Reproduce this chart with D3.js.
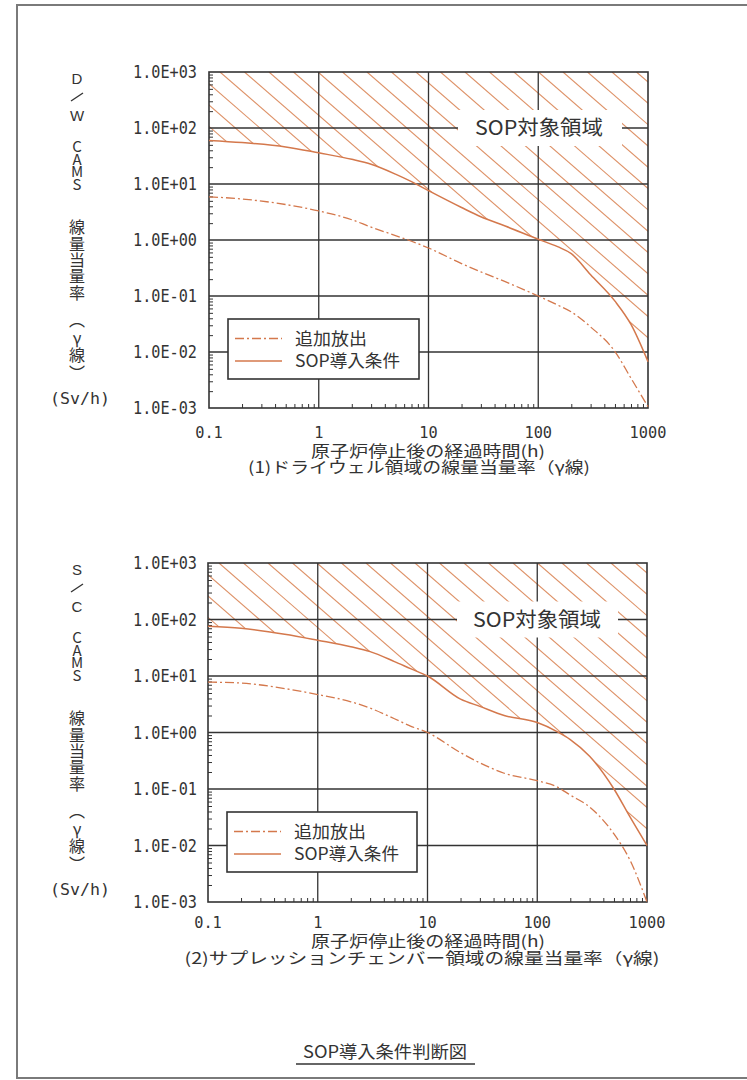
<!DOCTYPE html>
<html><head><meta charset="utf-8">
<script src="https://cdn.jsdelivr.net/npm/d3@7"></script>
<style>
html,body{margin:0;padding:0;background:#fff;}
svg{display:block;}
.vert{writing-mode:vertical-rl;text-orientation:upright;}
</style></head><body>
<svg id="c" width="747" height="1080"></svg>
<script>
// Elapsed time after reactor shutdown (h)
const hours = [0.1, 0.2, 0.5, 1, 2, 3, 5, 7, 10, 20, 30, 50, 100, 150, 200, 300, 500, 700, 1000];

// (1) Drywell CAMS dose rate (Sv/h)
const dwAdditional   = [5.9, 5.4, 4.3, 3.3, 2.3, 1.7, 1.2, 0.95, 0.72, 0.38, 0.27, 0.18, 0.1, 0.069, 0.052, 0.028, 0.0102, 0.0034, 0.00106];
const dwSopCondition = [60, 55, 46, 36, 27.6, 22.5, 15, 11, 7.6, 3.8, 2.6, 1.78, 1.03, 0.76, 0.57, 0.24, 0.081, 0.031, 0.0067];

// (2) Suppression chamber CAMS dose rate (Sv/h)
const scAdditional   = [7.8, 7.5, 6.0, 4.7, 3.5, 2.7, 1.75, 1.3, 1.0, 0.44, 0.29, 0.19, 0.14, 0.11, 0.078, 0.048, 0.016, 0.0055, 0.001];
const scSopCondition = [76, 70, 55, 43, 33, 27, 18, 13.5, 10, 3.9, 2.9, 2.0, 1.5, 1.05, 0.75, 0.38, 0.1, 0.032, 0.01];

const xTickValues = [0.1, 1, 10, 100, 1000];
const xTickLabels = ["0.1", "1", "10", "100", "1000"];
const yTickValues = [1e-3, 1e-2, 1e-1, 1e0, 1e1, 1e2, 1e3];
const yTickLabels = ["1.0E-03", "1.0E-02", "1.0E-01", "1.0E+00", "1.0E+01", "1.0E+02", "1.0E+03"];

const legendLabels = ["追加放出", "SOP導入条件"];
const regionLabel = "SOP対象領域";
const xTitle = "原子炉停止後の経過時間(h)";
const panelTitles = ["(1)ドライウェル領域の線量当量率（γ線)", "(2)サプレッションチェンバー領域の線量当量率（γ線)"];
const yTitleHeads = [["D", "W"], ["S", "C"]];
const yTitleTail = "CAMS";
const yTitleQuantity = "線量当量率";
const yTitleKind = "︵γ線︶";
const yUnit = "(Sv/h)";
const figureCaption = "SOP導入条件判断図";

const ORANGE = "#d4784c";
const HATCH = "#de9268";
const INK = "#333";
const MONO = "'DejaVu Sans Mono', monospace";
const JP = "'Noto Sans CJK JP', 'Noto Sans', sans-serif";
const LATIN = "'Liberation Sans', Arial, sans-serif";

const svg = d3.select("#c");

// page frame
svg.append("rect").attr("x", 17).attr("y", 5).attr("width", 800).attr("height", 1073)
  .attr("fill", "none").attr("stroke", "#7a7a7a").attr("stroke-width", 2);

const panels = [
  { top: 72, bottom: 408, left: 209, right: 648, add: dwAdditional, sop: dwSopCondition,
    heads: yTitleHeads[0], title: panelTitles[0], labelX: 539, boxL: 458, boxR: 622,
    legend: { x: 228, y: 319, w: 191, h: 60 }, tickBase: 438, titleBase: 457, subBase: 473, subX: 419, subW: 342 },
  { top: 563, bottom: 902, left: 208, right: 647, add: scAdditional, sop: scSopCondition,
    heads: yTitleHeads[1], title: panelTitles[1], labelX: 537, boxL: 457, boxR: 618,
    legend: { x: 227, y: 812, w: 190, h: 60 }, tickBase: 928, titleBase: 947, subBase: 964, subX: 422, subW: 475 }
];

panels.forEach((p, pi) => {
  const g = svg.append("g");
  const x = d3.scaleLog().domain([0.1, 1000]).range([p.left, p.right]);
  const y = d3.scaleLog().domain([1e-3, 1e3]).range([p.bottom, p.top]);
  const W = p.right - p.left, H = p.bottom - p.top;

  const curve = d3.curveMonotoneX;
  const line = vals => d3.line().curve(curve).x((d, i) => x(hours[i])).y(d => y(d))(vals);

  // hatched region above the SOP condition curve
  const clipId = "hatch" + pi;
  g.append("clipPath").attr("id", clipId).append("path")
    .attr("d", d3.area().curve(curve).x((d, i) => x(hours[i])).y0(p.top).y1(d => y(d))(p.sop));
  const hatch = g.append("g").attr("clip-path", `url(#${clipId})`);
  const spacing = 24.5, slope = 0.87;
  const run = H / slope;
  for (let a = p.left + 11 - Math.ceil(run / spacing) * spacing; a < p.right; a += spacing) {
    hatch.append("line").attr("x1", a).attr("y1", p.top).attr("x2", a + run).attr("y2", p.bottom)
      .attr("stroke", HATCH).attr("stroke-width", 1.1);
  }

  // gridlines
  g.append("g").selectAll("line").data(xTickValues.slice(1, -1)).join("line")
    .attr("x1", d => x(d)).attr("x2", d => x(d)).attr("y1", p.top).attr("y2", p.bottom)
    .attr("stroke", INK).attr("stroke-width", 1.3);
  g.append("g").selectAll("line").data(yTickValues.slice(1, -1)).join("line")
    .attr("x1", p.left).attr("x2", p.right).attr("y1", d => y(d)).attr("y2", d => y(d))
    .attr("stroke", INK).attr("stroke-width", 1.3);

  // minor ticks
  const minorX = [], minorY = [];
  for (let e = -1; e < 3; e++) for (let m = 2; m < 10; m++) minorX.push(m * Math.pow(10, e));
  for (let e = -3; e < 3; e++) for (let m = 2; m < 10; m++) minorY.push(m * Math.pow(10, e));
  g.append("g").call(d3.axisTop(x).tickValues(minorX).tickSize(4).tickFormat(""))
    .attr("transform", `translate(0,${p.bottom})`)
    .call(s => { s.select(".domain").remove(); s.selectAll("line").attr("stroke", INK).attr("stroke-width", 1); });
  g.append("g").call(d3.axisRight(y).tickValues(minorY).tickSize(4).tickFormat(""))
    .attr("transform", `translate(${p.left},0)`)
    .call(s => { s.select(".domain").remove(); s.selectAll("line").attr("stroke", INK).attr("stroke-width", 1); });

  // plot frame
  g.append("rect").attr("x", p.left).attr("y", p.top).attr("width", W).attr("height", H)
    .attr("fill", "none").attr("stroke", INK).attr("stroke-width", 1.6);

  // series
  g.append("path").attr("d", line(p.add)).attr("fill", "none").attr("stroke", ORANGE)
    .attr("stroke-width", 1.3).attr("stroke-dasharray", "9,3,2,3");
  g.append("path").attr("d", line(p.sop)).attr("fill", "none").attr("stroke", ORANGE)
    .attr("stroke-width", 1.5);

  // region label
  const ly = y(1e2);
  g.append("rect").attr("x", p.boxL).attr("y", ly - 18).attr("width", p.boxR - p.boxL).attr("height", 36).attr("fill", "#fff");
  g.append("text").attr("x", p.labelX).attr("y", ly).attr("dy", "0.36em").attr("text-anchor", "middle")
    .attr("font-family", JP).attr("font-size", 20).attr("fill", "#333")
    .attr("textLength", 128).attr("lengthAdjust", "spacingAndGlyphs").text(regionLabel);

  // legend
  const L = p.legend;
  g.append("rect").attr("x", L.x).attr("y", L.y).attr("width", L.w).attr("height", L.h)
    .attr("fill", "#fff").attr("stroke", INK).attr("stroke-width", 1.6);
  const rows = [{ dash: "9,3,2,3", dy: 19.5, label: legendLabels[0], tl: 72 },
                { dash: null, dy: 42, label: legendLabels[1], tl: 105 }];
  rows.forEach(r => {
    g.append("line").attr("x1", L.x + 7).attr("x2", L.x + 54).attr("y1", L.y + r.dy).attr("y2", L.y + r.dy)
      .attr("stroke", ORANGE).attr("stroke-width", r.dash ? 1.3 : 1.5).attr("stroke-dasharray", r.dash);
    g.append("text").attr("x", L.x + 67).attr("y", L.y + r.dy).attr("dy", "0.36em")
      .attr("font-family", JP).attr("font-size", 17).attr("fill", "#333")
      .attr("textLength", r.tl).attr("lengthAdjust", "spacingAndGlyphs").text(r.label);
  });

  // tick labels
  g.append("g").selectAll("text").data(yTickValues).join("text")
    .attr("x", 197).attr("y", d => y(d)).attr("dy", "0.36em").attr("text-anchor", "end")
    .attr("font-family", MONO).attr("font-size", 17).attr("fill", "#333")
    .attr("textLength", 64).attr("lengthAdjust", "spacingAndGlyphs")
    .text((d, i) => yTickLabels[i]);
  g.append("g").selectAll("text").data(xTickValues).join("text")
    .attr("x", d => x(d)).attr("y", p.tickBase).attr("text-anchor", "middle")
    .attr("font-family", MONO).attr("font-size", 16).attr("fill", "#333")
    .attr("textLength", (d, i) => xTickLabels[i].length * 9.2).attr("lengthAdjust", "spacingAndGlyphs")
    .text((d, i) => xTickLabels[i]);

  // axis title and panel caption, two lines of one text block
  const cap = g.append("text").attr("text-anchor", "middle")
    .attr("font-family", JP).attr("font-size", 15.5).attr("fill", "#333");
  cap.append("tspan").attr("x", 428).attr("y", p.titleBase)
    .attr("textLength", 234).attr("lengthAdjust", "spacingAndGlyphs").text(xTitle);
  cap.append("tspan").attr("x", p.subX).attr("y", p.subBase)
    .attr("textLength", p.subW).attr("lengthAdjust", "spacingAndGlyphs").text(p.title);

  // vertical y-axis title
  const cx = 77, t0 = p.top;
  const yt = g.append("g").attr("fill", "#333");
  yt.append("text").attr("x", cx).attr("y", t0 + 7).attr("dy", "0.36em").attr("text-anchor", "middle")
    .attr("font-family", LATIN).attr("font-size", 15).text(p.heads[0]);
  yt.append("text").attr("x", cx).attr("y", t0 + 44).attr("dy", "0.36em").attr("text-anchor", "middle")
    .attr("font-family", LATIN).attr("font-size", 15).text(p.heads[1]);
  // slash between the two head letters, laid on its side as in vertical writing
  yt.append("line").attr("x1", cx - 6).attr("y1", t0 + 29).attr("x2", cx + 6).attr("y2", t0 + 21)
    .attr("stroke", "#333").attr("stroke-width", 1.4);
  const column = (str, centerY, size, spacing) => yt.append("text").attr("class", "vert")
    .attr("x", cx).attr("y", t0 + centerY).attr("text-anchor", "middle")
    .attr("font-family", JP).attr("font-size", size).attr("letter-spacing", spacing).text(str);
  column(yTitleTail, 92, 15, -2.5);
  column(yTitleQuantity, 188, 16, 0.3);
  column(yTitleKind, 275, 16, 1.5);
  yt.append("text").attr("x", 80).attr("y", t0 + 326).attr("dy", "0.36em").attr("text-anchor", "middle")
    .attr("font-family", MONO).attr("font-size", 16)
    .attr("textLength", 60).attr("lengthAdjust", "spacingAndGlyphs").text(yUnit);
});

// figure caption
svg.append("text").attr("x", 385).attr("y", 1058).attr("text-anchor", "middle")
  .attr("font-family", JP).attr("font-size", 17).attr("fill", "#333")
  .attr("textLength", 164).attr("lengthAdjust", "spacingAndGlyphs").text(figureCaption);
svg.append("line").attr("x1", 296).attr("x2", 475).attr("y1", 1064).attr("y2", 1064)
  .attr("stroke", INK).attr("stroke-width", 1.3);
</script>
</body></html>
